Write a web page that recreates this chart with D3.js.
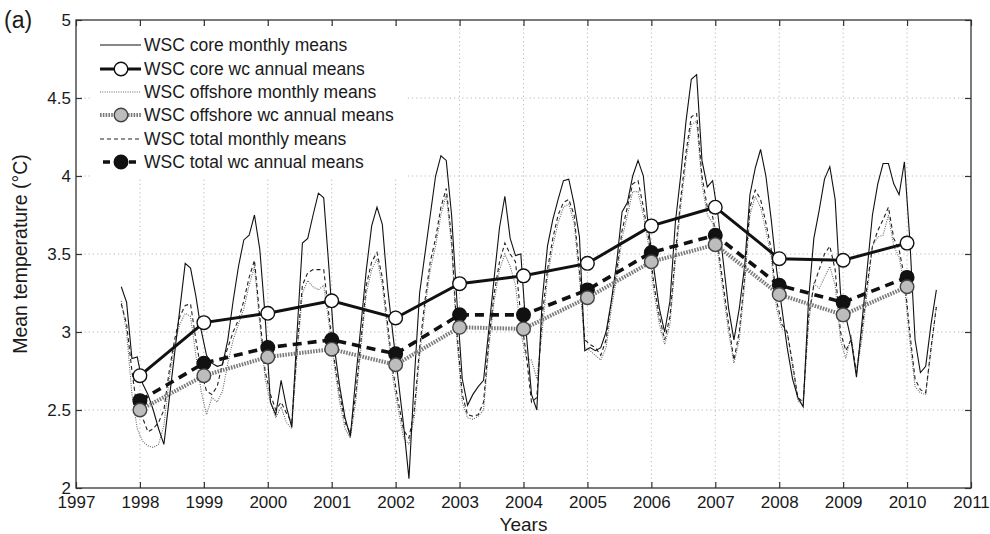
<!DOCTYPE html>
<html><head><meta charset="utf-8">
<script src="https://cdn.jsdelivr.net/npm/d3@7"></script>
<style>body{margin:0;background:#fff} svg{display:block}</style>
</head><body><svg id="c" width="990" height="534"></svg>
<script>
// Monthly series: Sep 1997 .. Jun 2010
const monthStart = [1997, 9];
const coreMonthly = [
 3.29,3.19,2.83,2.84,
 2.67,2.60,2.50,2.38,2.28,2.57,2.86,3.15,3.44,3.41,3.23,3.01,
 2.85,2.80,2.78,2.79,2.95,3.20,3.42,3.59,3.62,3.75,3.53,3.10,
 2.55,2.47,2.69,2.52,2.39,3.00,3.57,3.60,3.75,3.89,3.86,3.40,
 2.90,2.65,2.45,2.33,2.70,3.05,3.40,3.68,3.80,3.69,3.28,2.98,
 2.69,2.40,2.06,2.70,3.25,3.50,3.75,4.00,4.13,4.10,3.75,3.20,
 2.70,2.53,2.60,2.65,2.69,3.02,3.35,3.67,3.87,3.60,3.49,3.50,
 3.00,2.60,2.50,3.20,3.55,3.72,3.85,3.97,3.98,3.82,3.61,2.88,
 2.90,2.88,2.90,3.00,3.20,3.45,3.77,3.83,4.00,4.10,4.00,3.65,
 3.40,3.15,3.00,3.20,3.70,4.00,4.35,4.62,4.65,4.10,3.93,3.97,
 3.75,3.45,3.15,2.95,3.15,3.42,3.88,4.05,4.17,4.00,3.72,3.40,
 3.15,2.90,2.70,2.58,2.52,3.20,3.60,3.78,3.98,4.06,3.85,3.25,
 3.10,2.95,2.71,3.05,3.40,3.75,3.95,4.08,4.08,3.95,3.88,4.09,
 3.60,2.95,2.74,2.78,3.05,3.27
];
const offshoreMonthly = [
 3.20,3.00,2.60,2.38,
 2.30,2.27,2.26,2.28,2.40,2.70,2.92,3.05,3.12,3.10,2.85,2.62,
 2.47,2.58,2.55,2.62,2.80,2.95,3.05,3.15,3.30,3.42,3.05,2.70,
 2.55,2.45,2.52,2.42,2.38,2.85,3.25,3.33,3.29,3.27,3.30,3.05,
 2.78,2.55,2.38,2.32,2.55,2.90,3.25,3.40,3.47,3.30,3.00,2.70,
 2.50,2.32,2.28,2.45,2.85,3.15,3.40,3.55,3.75,3.88,3.55,2.95,
 2.55,2.45,2.44,2.46,2.50,2.90,3.20,3.40,3.50,3.42,3.30,3.00,
 2.83,2.82,2.70,3.00,3.35,3.55,3.70,3.80,3.82,3.70,3.35,2.90,
 2.88,2.85,2.82,2.90,3.15,3.35,3.60,3.75,3.90,3.90,3.75,3.55,
 3.25,3.05,2.92,3.05,3.45,3.80,4.10,4.33,4.35,3.95,3.75,3.70,
 3.50,3.25,3.00,2.80,2.95,3.30,3.75,3.87,3.80,3.65,3.48,3.15,
 3.02,3.00,2.78,2.56,2.53,3.05,3.31,3.28,3.35,3.42,3.30,2.95,
 2.83,2.98,2.73,2.95,3.25,3.55,3.61,3.62,3.75,3.55,3.48,3.30,
 2.95,2.65,2.61,2.60,2.88,3.17
];
const totalMonthly = [
 3.18,3.05,2.75,2.50,
 2.45,2.36,2.38,2.42,2.50,2.75,2.95,3.10,3.17,3.18,2.95,2.75,
 2.62,2.60,2.65,2.80,2.90,3.00,3.08,3.20,3.35,3.46,3.10,2.75,
 2.60,2.50,2.55,2.48,2.42,2.90,3.30,3.38,3.40,3.40,3.40,3.10,
 2.82,2.60,2.42,2.35,2.60,2.95,3.30,3.45,3.51,3.35,3.05,2.75,
 2.55,2.37,2.32,2.50,2.90,3.20,3.45,3.60,3.80,3.92,3.60,3.00,
 2.60,2.47,2.46,2.47,2.55,2.95,3.25,3.45,3.57,3.50,3.45,3.10,
 2.86,2.55,2.58,3.10,3.40,3.60,3.75,3.83,3.85,3.75,3.40,2.95,
 2.92,2.90,2.85,2.95,3.20,3.40,3.65,3.80,3.95,3.97,3.80,3.60,
 3.30,3.10,2.95,3.10,3.50,3.85,4.15,4.38,4.40,4.00,3.80,3.74,
 3.55,3.30,3.05,2.82,3.00,3.35,3.80,3.91,3.85,3.70,3.53,3.20,
 3.05,3.00,2.80,2.58,2.55,3.10,3.30,3.40,3.50,3.55,3.40,3.00,
 2.88,2.95,2.74,3.00,3.30,3.55,3.65,3.72,3.80,3.60,3.53,3.35,
 3.00,2.70,2.63,2.61,2.90,3.16
];
// Annual water-column means
const years = [1998,1999,2000,2001,2002,2003,2004,2005,2006,2007,2008,2009,2010];
const coreAnnual     = [2.72,3.06,3.12,3.20,3.09,3.31,3.36,3.44,3.68,3.80,3.47,3.46,3.57];
const offshoreAnnual = [2.50,2.72,2.84,2.89,2.79,3.03,3.02,3.22,3.45,3.56,3.24,3.11,3.29];
const totalAnnual    = [2.56,2.80,2.90,2.95,2.86,3.11,3.11,3.27,3.51,3.62,3.30,3.19,3.35];
// Axis ticks and labels
const xTicks = [1997,1998,1999,2000,2001,2002,2003,2004,2005,2006,2007,2008,2009,2010,2011];
const yTicks = [2,2.5,3,3.5,4,4.5,5];
const legendLabels = ["WSC core monthly means","WSC core wc annual means","WSC offshore monthly means",
  "WSC offshore wc annual means","WSC total monthly means","WSC total wc annual means"];

const svg = d3.select("#c");
const L=76,R=971,T=20,B=488;
const x = d3.scaleLinear().domain([1997,2011]).range([L,R]);
const y = d3.scaleLinear().domain([2,5]).range([B,T]);
const FONT = "'Liberation Sans', Arial, Helvetica, sans-serif";
const txt = "#1a1a1a";

const tOf = i => monthStart[0] + (monthStart[1]-1 + i + 0.5)/12;

// grid
const grid = svg.append("g").attr("stroke","#b8b8b8").attr("stroke-width",1).attr("stroke-dasharray","1.2,3");
grid.selectAll("line.v").data(xTicks.slice(1,-1)).join("line")
  .attr("x1",d=>x(d)).attr("x2",d=>x(d)).attr("y1",T).attr("y2",B);
grid.selectAll("line.h").data(yTicks.slice(1,-1)).join("line")
  .attr("x1",L).attr("x2",R).attr("y1",d=>y(d)).attr("y2",d=>y(d));

// axes
const fmtX = d3.format("d");
const ax = svg.append("g").attr("transform",`translate(0,${B})`)
  .call(d3.axisBottom(x).tickValues(xTicks).tickFormat(fmtX).tickSize(-6).tickPadding(8));
const axTop = svg.append("g").attr("transform",`translate(0,${T})`)
  .call(d3.axisTop(x).tickValues(xTicks).tickFormat("").tickSize(-6));
const ay = svg.append("g").attr("transform",`translate(${L},0)`)
  .call(d3.axisLeft(y).tickValues(yTicks).tickFormat(d=>String(d)).tickSize(-6).tickPadding(5));
const ayR = svg.append("g").attr("transform",`translate(${R},0)`)
  .call(d3.axisRight(y).tickValues(yTicks).tickFormat("").tickSize(-6));
[ax,axTop,ay,ayR].forEach(g=>{
  g.select(".domain").remove();
  g.selectAll(".tick line").attr("stroke","#333").attr("stroke-width",1.2);
  g.selectAll("text").attr("fill",txt).style("font-family",FONT).style("font-size","17px");
});

// monthly lines
const mLine = d3.line().x((d,i)=>x(tOf(i))).y(d=>y(d));
svg.append("path").datum(offshoreMonthly).attr("d",mLine).attr("fill","none")
  .attr("stroke","#666").attr("stroke-width",1.1).attr("stroke-dasharray","1,1.3");
svg.append("path").datum(totalMonthly).attr("d",mLine).attr("fill","none")
  .attr("stroke","#222").attr("stroke-width",1.1).attr("stroke-dasharray","4,3");
svg.append("path").datum(coreMonthly).attr("d",mLine).attr("fill","none")
  .attr("stroke","#111").attr("stroke-width",1.1);

// annual lines
const aLine = d3.line().x((d,i)=>x(years[i])).y(d=>y(d));
function annual(vals, lineStroke, width, dash, fill, cstroke){
  const g = svg.append("g");
  g.append("path").datum(vals).attr("d",aLine).attr("fill","none")
    .attr("stroke",lineStroke).attr("stroke-width",width).attr("stroke-dasharray",dash);
  g.selectAll("circle").data(vals).join("circle")
    .attr("cx",(d,i)=>x(years[i])).attr("cy",d=>y(d)).attr("r",6.8)
    .attr("fill",fill).attr("stroke",cstroke).attr("stroke-width",1.4);
}
annual(totalAnnual, "#111", 3.6, "9,6", "#111", "#111");
annual(offshoreAnnual, "#7a7a7a", 4, "1.6,1.2", "#bdbdbd", "#444");
annual(coreAnnual, "#111", 3, null, "#fff", "#111");

// frame
svg.append("rect").attr("x",L).attr("y",T).attr("width",R-L).attr("height",B-T)
  .attr("fill","none").attr("stroke","#333").attr("stroke-width",1.3);

// legend
const lg = svg.append("g");
lg.append("rect").attr("x",92).attr("y",28).attr("width",313).attr("height",150).attr("fill","#fff");
const ly = [45,69,92,115,139,162];
const styles = [
  {s:"#111",w:1.1,d:null},
  {s:"#111",w:3,d:null,c:["#fff","#111"]},
  {s:"#666",w:1.1,d:"1,1.3"},
  {s:"#7a7a7a",w:4,d:"1.6,1.2",c:["#bdbdbd","#444"]},
  {s:"#222",w:1.1,d:"4,3"},
  {s:"#111",w:3.6,d:"7,6",c:["#111","#111"],off:3}
];
styles.forEach((st,i)=>{
  lg.append("line").attr("x1",100+(st.off||0)).attr("x2",141).attr("y1",ly[i]).attr("y2",ly[i])
    .attr("stroke",st.s).attr("stroke-width",st.w).attr("stroke-dasharray",st.d);
  if(st.c) lg.append("circle").attr("cx",121).attr("cy",ly[i]).attr("r",6.8)
    .attr("fill",st.c[0]).attr("stroke",st.c[1]).attr("stroke-width",1.4);
  lg.append("text").attr("x",144).attr("y",ly[i]).attr("dy","0.36em").text(legendLabels[i])
    .attr("fill",txt).style("font-family",FONT).style("font-size","17.5px");
});

// titles
svg.append("text").attr("x",(L+R)/2).attr("y",531).attr("text-anchor","middle").text("Years")
  .attr("fill",txt).style("font-family",FONT).style("font-size","19px");
svg.append("text").attr("transform",`translate(27,${(T+B)/2}) rotate(-90)`).attr("text-anchor","middle")
  .text("Mean temperature (°C)").attr("fill",txt).style("font-family",FONT).style("font-size","19.5px");
svg.append("text").attr("x",4).attr("y",28).text("(a)")
  .attr("fill",txt).style("font-family",FONT).style("font-size","23px");
</script></body></html>
